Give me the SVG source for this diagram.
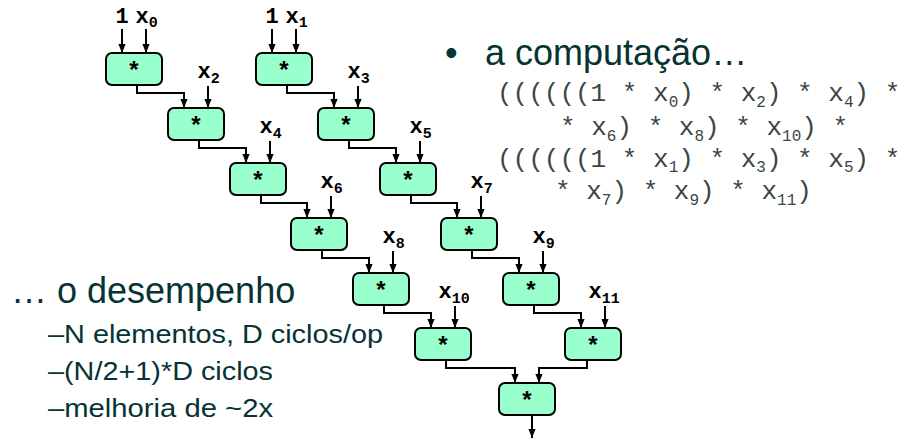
<svg xmlns="http://www.w3.org/2000/svg" width="921" height="440" viewBox="0 0 921 440">
  <style>
    .op rect { fill: #99ffcc; stroke: #000; stroke-width: 2; }
    .op text { font-family: "Liberation Mono", monospace; font-weight: bold; font-size: 24px; text-anchor: middle; fill: #000; }
    .wire { fill: none; stroke: #000; stroke-width: 2; marker-end: url(#arrow); }
    .in { font-family: "Liberation Mono", monospace; font-weight: bold; font-size: 22px; fill: #000; }
    .in .s { font-size: 15px; }
    .title { font-family: "Liberation Sans", Arial, sans-serif; font-size: 36px; fill: #063333; }
    .item { font-family: "Liberation Sans", Arial, sans-serif; font-size: 25px; fill: #063333; }
    .code { font-family: "Liberation Mono", monospace; font-size: 26px; fill: #3a4646; white-space: pre; }
    .code .s { font-size: 16px; }
  </style>
  <defs>
    <marker id="arrow" viewBox="0 0 10 10" refX="10" refY="5" markerUnits="userSpaceOnUse" markerWidth="9" markerHeight="9" orient="auto">
      <path d="M0,1 L10,5 L0,9 z" fill="#000"/>
    </marker>
  </defs>

  <!-- connectors -->
  <g id="connectors">
    <!-- inputs of the first products -->
    <path class="wire" d="M122,29 V53"/>
    <path class="wire" d="M146,29 V53"/>
    <path class="wire" d="M272,29 V53"/>
    <path class="wire" d="M296,29 V53"/>
    <!-- even chain -->
    <path class="wire" d="M137,85 V93 H184 V108"/>
    <path class="wire" d="M208,86 V108"/>
    <path class="wire" d="M199,140 V148 H246 V163"/>
    <path class="wire" d="M270,141 V163"/>
    <path class="wire" d="M261,195 V203 H307 V218"/>
    <path class="wire" d="M331,196 V218"/>
    <path class="wire" d="M322,250 V258 H369 V273"/>
    <path class="wire" d="M393,251 V273"/>
    <path class="wire" d="M384,305 V313 H431 V328"/>
    <path class="wire" d="M455,306 V328"/>
    <!-- odd chain -->
    <path class="wire" d="M287,85 V93 H334 V108"/>
    <path class="wire" d="M358,86 V108"/>
    <path class="wire" d="M349,140 V148 H396 V163"/>
    <path class="wire" d="M420,141 V163"/>
    <path class="wire" d="M411,195 V203 H457 V218"/>
    <path class="wire" d="M481,196 V218"/>
    <path class="wire" d="M472,250 V258 H519 V273"/>
    <path class="wire" d="M543,251 V273"/>
    <path class="wire" d="M534,305 V313 H581 V328"/>
    <path class="wire" d="M605,306 V328"/>
    <!-- final combine and result -->
    <path class="wire" d="M446,360 V368 H515 V383"/>
    <path class="wire" d="M587,360 V368 H539 V383"/>
    <path class="wire" d="M532,415 V438"/>
  </g>

  <!-- input labels -->
  <g id="inputs" class="in">
    <text x="122" y="23" text-anchor="middle">1</text>
    <text x="135.5" y="23">x<tspan class="s" dy="4">0</tspan></text>
    <text x="272" y="23" text-anchor="middle">1</text>
    <text x="285.5" y="23">x<tspan class="s" dy="4">1</tspan></text>
    <text x="197.5" y="78">x<tspan class="s" dy="5">2</tspan></text>
    <text x="259.5" y="133">x<tspan class="s" dy="5">4</tspan></text>
    <text x="320.5" y="188">x<tspan class="s" dy="5">6</tspan></text>
    <text x="382.5" y="243">x<tspan class="s" dy="5">8</tspan></text>
    <text x="438.5" y="298">x<tspan class="s" dy="5">10</tspan></text>
    <text x="347.5" y="78">x<tspan class="s" dy="5">3</tspan></text>
    <text x="409.5" y="133">x<tspan class="s" dy="5">5</tspan></text>
    <text x="470.5" y="188">x<tspan class="s" dy="5">7</tspan></text>
    <text x="532.5" y="243">x<tspan class="s" dy="5">9</tspan></text>
    <text x="588.5" y="298">x<tspan class="s" dy="5">11</tspan></text>
  </g>

  <!-- multiply nodes: even chain -->
  <g id="m0" class="op"><rect x="106" y="53" width="56" height="32" rx="6"/><text x="134" y="79">*</text></g>
  <g id="m2" class="op"><rect x="168" y="108" width="56" height="32" rx="6"/><text x="196" y="134">*</text></g>
  <g id="m4" class="op"><rect x="230" y="163" width="56" height="32" rx="6"/><text x="258" y="189">*</text></g>
  <g id="m6" class="op"><rect x="291" y="218" width="56" height="32" rx="6"/><text x="319" y="244">*</text></g>
  <g id="m8" class="op"><rect x="353" y="273" width="56" height="32" rx="6"/><text x="381" y="299">*</text></g>
  <g id="m10" class="op"><rect x="415" y="328" width="56" height="32" rx="6"/><text x="443" y="354">*</text></g>
  <!-- multiply nodes: odd chain -->
  <g id="m1" class="op"><rect x="256" y="53" width="56" height="32" rx="6"/><text x="284" y="79">*</text></g>
  <g id="m3" class="op"><rect x="318" y="108" width="56" height="32" rx="6"/><text x="346" y="134">*</text></g>
  <g id="m5" class="op"><rect x="380" y="163" width="56" height="32" rx="6"/><text x="408" y="189">*</text></g>
  <g id="m7" class="op"><rect x="441" y="218" width="56" height="32" rx="6"/><text x="469" y="244">*</text></g>
  <g id="m9" class="op"><rect x="503" y="273" width="56" height="32" rx="6"/><text x="531" y="299">*</text></g>
  <g id="m11" class="op"><rect x="565" y="328" width="56" height="32" rx="6"/><text x="593" y="354">*</text></g>
  <!-- final product -->
  <g id="mfinal" class="op"><rect x="499" y="383" width="56" height="32" rx="6"/><text x="527" y="409">*</text></g>

  <!-- text: computation -->
  <g id="computation">
    <text class="title" x="445" y="65">•</text>
    <text class="title" x="485" y="65">a computação…</text>
    <text class="code" x="497" y="101">((((((1 * x<tspan class="s" dy="6">0</tspan><tspan dy="-6">) * x</tspan><tspan class="s" dy="6">2</tspan><tspan dy="-6">) * x</tspan><tspan class="s" dy="6">4</tspan><tspan dy="-6">) *</tspan></text>
    <text class="code" x="560" y="135">* x<tspan class="s" dy="6">6</tspan><tspan dy="-6">) * x</tspan><tspan class="s" dy="6">8</tspan><tspan dy="-6">) * x</tspan><tspan class="s" dy="6">10</tspan><tspan dy="-6">) *</tspan></text>
    <text class="code" x="497" y="167">((((((1 * x<tspan class="s" dy="5">1</tspan><tspan dy="-5">) * x</tspan><tspan class="s" dy="5">3</tspan><tspan dy="-5">) * x</tspan><tspan class="s" dy="5">5</tspan><tspan dy="-5">) *</tspan></text>
    <text class="code" x="555" y="199">* x<tspan class="s" dy="6">7</tspan><tspan dy="-6">) * x</tspan><tspan class="s" dy="6">9</tspan><tspan dy="-6">) * x</tspan><tspan class="s" dy="6">11</tspan><tspan dy="-6">)</tspan></text>
  </g>

  <!-- text: performance -->
  <g id="performance">
    <text class="title" x="11" y="303">… o desempenho</text>
    <text class="item" x="48" y="343" textLength="335" lengthAdjust="spacingAndGlyphs">–N elementos, D ciclos/op</text>
    <text class="item" x="48" y="380" textLength="225" lengthAdjust="spacingAndGlyphs">–(N/2+1)*D ciclos</text>
    <text class="item" x="48" y="417" textLength="225" lengthAdjust="spacingAndGlyphs">–melhoria de ~2x</text>
  </g>
</svg>
